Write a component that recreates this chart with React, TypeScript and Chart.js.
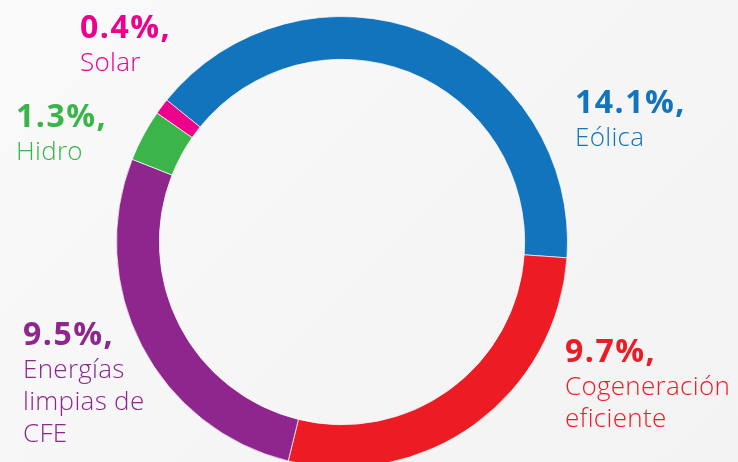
import React, { useEffect, useRef } from "react";
import { Chart, registerables } from "chart.js";

Chart.register(...registerables);

const categories = ["Eólica", "Cogeneración eficiente", "Energías limpias de CFE", "Hidro", "Solar"];
const shares = [14.1, 9.7, 9.5, 1.3, 0.4];
const shareLabels = ["14.1%,", "9.7%,", "9.5%,", "1.3%,", "0.4%,"];
const nameLines = [["Eólica"], ["Cogeneración", "eficiente"], ["Energías", "limpias de", "CFE"], ["Hidro"], ["Solar"]];
const colors = ["#1174bc", "#ed1c24", "#8e268e", "#3bb54a", "#ec008c"];

// label anchor (left x, baseline y of the percentage line)
const labelAnchors = [
  [575, 113],
  [565, 362],
  [23, 345],
  [16, 127],
  [80, 38],
];

const labelPlugin = {
  id: "sideLabels",
  afterDraw(chart: any) {
    const ctx = chart.ctx;
    ctx.save();
    ctx.textAlign = "left";
    ctx.textBaseline = "alphabetic";
    shares.forEach((_, i) => {
      const [x, y] = labelAnchors[i];
      ctx.fillStyle = colors[i];
      ctx.font = "700 32px 'Open Sans'";
      (ctx as any).letterSpacing = "1.5px";
      ctx.fillText(shareLabels[i], x, y);
      ctx.font = "300 26px 'Open Sans'";
      (ctx as any).letterSpacing = "0.3px";
      nameLines[i].forEach((line, j) => {
        ctx.fillText(line, x, y + 33 + j * 32);
      });
    });
    ctx.restore();
  },
};

export default function App() {
  const ref = useRef<HTMLCanvasElement>(null);
  useEffect(() => {
    document.body.style.margin = "0";
    const chart = new Chart(ref.current!, {
      type: "doughnut",
      data: {
        labels: categories,
        datasets: [
          {
            data: shares,
            backgroundColor: colors,
            borderColor: "rgba(255,255,255,0.7)",
            borderWidth: 1,
          },
        ],
      },
      options: {
        responsive: false,
        animation: false,
        rotation: -51,
        cutout: "81%",
        layout: { padding: { top: 16, bottom: 32, left: 116, right: 170 } },
        plugins: { legend: { display: false }, tooltip: { enabled: false } },
      },
      plugins: [labelPlugin],
    });
    return () => chart.destroy();
  }, []);
  return (
    <div style={{ position: "fixed", left: 0, top: 0, width: 738, height: 462, overflow: "hidden", background: "linear-gradient(135deg, #fafafa 0%, #f5f5f5 60%, #f3f3f3 100%)" }}>
      <canvas ref={ref} width={738} height={500} />
    </div>
  );
}
